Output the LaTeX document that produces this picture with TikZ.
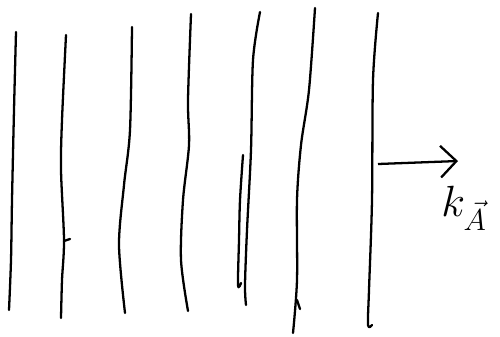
\documentclass[tikz,border=0pt]{standalone}
\usepackage{amsmath}
\usetikzlibrary{arrows.meta}
\tikzset{
    front/.style={line width=1.3pt,line cap=round,line join=round},
    directed/.style={line width=1.3pt,arrows={-Straight Barb[length=9pt,width=18pt]}},
    wavelabel/.style={draw=none,font=\fontsize{26}{28}\selectfont,inner sep=1pt},
    }
\begin{document}
\begin{tikzpicture}[x=0.02cm,y=-0.02cm]
    \useasboundingbox (0,0) rectangle (500,336);
    % wave fronts
    \draw[front] plot[smooth] coordinates {(16,32) (14,110) (12,200) (11,260) (9,310)};
    \draw[front] plot[smooth] coordinates {(66,35) (62,120) (61,170) (64,240) (62,280) (61,318)};
    \draw[front] (64,241) -- (70,239);
    \draw[front] plot[smooth] coordinates {(132,27) (130,130) (124,185) (119,245) (125,313)};
    \draw[front] plot[smooth] coordinates {(191,14) (188,100) (189,145) (183,200) (181,260) (188,311)};
    \draw[front] plot[smooth] coordinates {(260,12) (253,60) (251,150) (247,230) (245,285) (246,305)};
    \draw[front] plot[smooth] coordinates {(243,155) (240,200) (239,240) (238,285) (241,283)};
    \draw[front] plot[smooth] coordinates {(315,8) (309,90) (301,145) (297,200) (297,280) (293,333)};
    \draw[front] (297,300) -- (300,309);
    \draw[front] plot[smooth] coordinates {(378,13) (373,80) (372,200) (369,290) (368,325) (372,325)};
    % direction
    \coordinate (tail) at (378,164);
    \coordinate (head) at (458,161);
    \node[wavelabel] (kA) at (464,208) {$k_{\vec{A}}$};
    \draw[directed] (tail) -- (head);
\end{tikzpicture}
\end{document}
